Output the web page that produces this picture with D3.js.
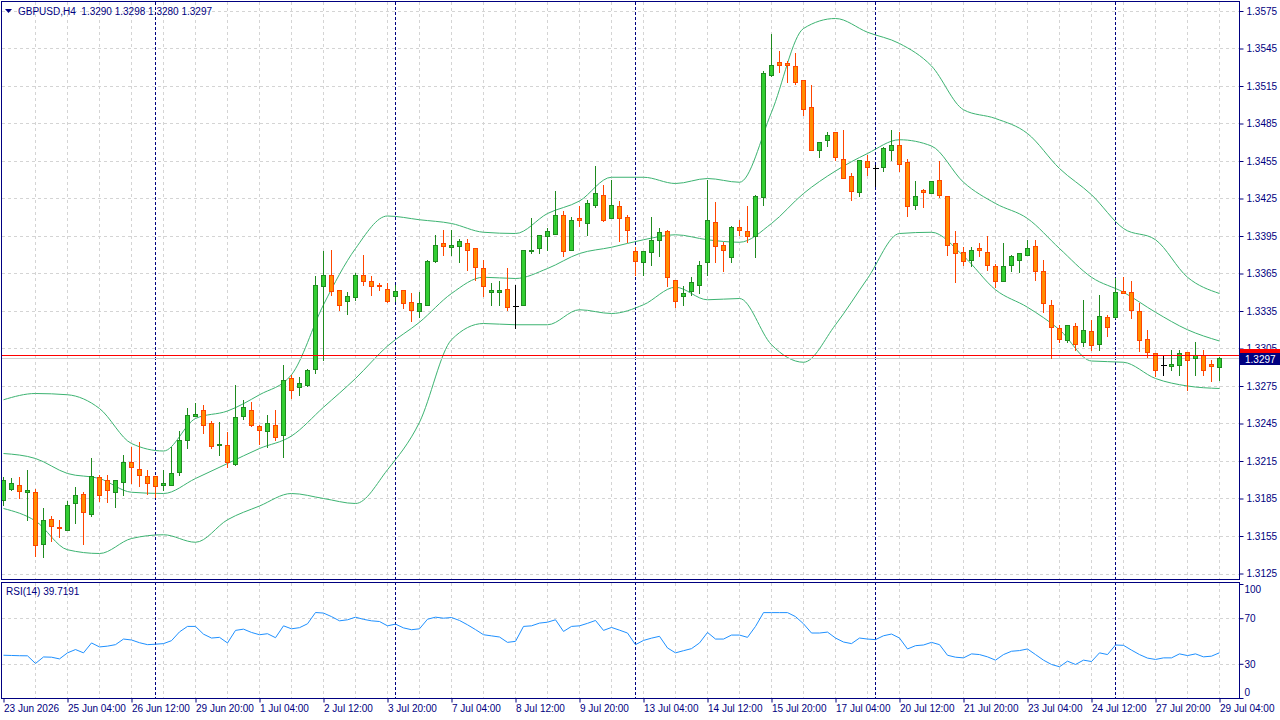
<!DOCTYPE html>
<title>GBPUSD,H4</title>
<body>
<script src="https://d3js.org/d3.v7.min.js"></script>
<style>
  html, body {
    width: 100%;
    height: 100%;
    margin: 0;
    overflow: hidden;
    background: #fff;
  }
  text {
    font-family: "Liberation Sans", Arial, sans-serif;
    font-size: 10px;
    fill: #000080;
  }
</style>
<script>
  // GBPUSD H4 candles, bar 0 = 23 Jun 20:00, bar 152 = 29 Jul 04:00
  var open = [
    1.3184,1.3193,1.3196,1.3190,1.3190,1.3149,1.3169,1.3162,1.3160,1.3181,
    1.3189,1.3173,1.3202,1.3200,1.3190,1.3198,1.3214,1.3209,1.3203,1.3203,
    1.3196,1.3196,1.3206,1.3232,1.3251,1.3256,1.3245,1.3228,1.3228,1.3213,
    1.3251,1.3256,1.3243,1.3239,1.3244,1.3236,1.3281,1.3274,1.3276,1.3289,
    1.3355,1.3364,1.3352,1.3343,1.3346,1.3364,1.3359,1.3356,1.3353,1.3347,
    1.3352,1.3342,1.3335,1.3340,1.3375,1.3389,1.3386,1.3387,1.3389,1.3385,
    1.3369,1.3350,1.3350,1.3353,1.3339,1.3340,1.3383,1.3385,1.3395,1.3397,
    1.3412,1.3384,1.3409,1.3405,1.3420,1.3428,1.3409,1.3419,1.3410,1.3383,
    1.3374,1.3382,1.3392,1.3399,1.3360,1.3347,1.3351,1.3356,1.3374,1.3406,
    1.3388,1.3378,1.3402,1.3399,1.3395,1.3426,1.3524,1.3534,1.3533,1.3531,
    1.3520,1.3498,1.3464,1.3472,1.3478,1.3457,1.3443,1.3430,1.3455,1.3449,
    1.3450,1.3464,1.3468,1.3454,1.3420,1.3432,1.3429,1.3440,1.3427,1.3389,
    1.3382,1.3376,1.3385,1.3382,1.3371,1.3359,1.3372,1.3376,1.3380,1.3387,
    1.3367,1.3340,1.3321,1.3312,1.3323,1.3310,1.3319,1.3309,1.3330,1.3330,
    1.3351,1.3350,1.3335,1.3313,1.3301,1.3292,1.3291,1.3292,1.3302,1.3297,
    1.3300,1.3293,1.3290];
  var high = [
    1.3202,1.3201,1.3202,1.3208,1.3193,1.3177,1.3171,1.3168,1.3183,1.3194,
    1.3190,1.3217,1.3204,1.3204,1.3200,1.3220,1.3226,1.3230,1.3208,1.3203,
    1.3208,1.3226,1.3239,1.3257,1.3261,1.3260,1.3247,1.3246,1.3238,1.3276,
    1.3264,1.3262,1.3244,1.3252,1.3256,1.3292,1.3284,1.3282,1.3289,1.3363,
    1.3383,1.3384,1.3352,1.3350,1.3365,1.3380,1.3363,1.3357,1.3357,1.3356,
    1.3352,1.3349,1.3350,1.3376,1.3396,1.3400,1.3400,1.3393,1.3393,1.3385,
    1.3376,1.3357,1.3359,1.3369,1.3356,1.3384,1.3409,1.3396,1.3401,1.3431,
    1.3415,1.3410,1.3419,1.3424,1.3451,1.3436,1.3440,1.3423,1.3412,1.3386,
    1.3383,1.3410,1.3401,1.3400,1.3360,1.3355,1.3362,1.3375,1.3440,1.3422,
    1.3390,1.3403,1.3408,1.3419,1.3428,1.3527,1.3557,1.3543,1.3535,1.3541,
    1.3520,1.3516,1.3470,1.3478,1.3478,1.3480,1.3445,1.3456,1.3460,1.3452,
    1.3466,1.3480,1.3478,1.3457,1.3439,1.3433,1.3439,1.3455,1.3427,1.3399,
    1.3386,1.3386,1.3389,1.3395,1.3373,1.3389,1.3380,1.3381,1.3392,1.3392,
    1.3376,1.3344,1.3324,1.3324,1.3325,1.3344,1.3328,1.3348,1.3332,1.3361,
    1.3362,1.3359,1.3341,1.3320,1.3301,1.3300,1.3304,1.3304,1.3302,1.3310,
    1.3304,1.3296,1.3298];
  var low = [
    1.3180,1.3192,1.3185,1.3168,1.3139,1.3138,1.3151,1.3154,1.3160,1.3165,
    1.3149,1.3171,1.3183,1.3182,1.3178,1.3188,1.3197,1.3195,1.3189,1.3186,
    1.3192,1.3196,1.3204,1.3225,1.3251,1.3237,1.3225,1.3220,1.3210,1.3212,
    1.3249,1.3243,1.3229,1.3226,1.3232,1.3218,1.3265,1.3268,1.3275,1.3285,
    1.3296,1.3348,1.3336,1.3333,1.3344,1.3356,1.3348,1.3352,1.3342,1.3343,
    1.3337,1.3327,1.3330,1.3340,1.3374,1.3380,1.3380,1.3374,1.3368,1.3360,
    1.3347,1.3340,1.3340,1.3336,1.3321,1.3340,1.3381,1.3381,1.3384,1.3397,
    1.3379,1.3384,1.3403,1.3396,1.3418,1.3407,1.3409,1.3391,1.3390,1.3364,
    1.3364,1.3372,1.3379,1.3355,1.3338,1.3340,1.3348,1.3349,1.3364,1.3374,
    1.3367,1.3374,1.3396,1.3390,1.3378,1.3420,1.3523,1.3526,1.3518,1.3517,
    1.3492,1.3464,1.3458,1.3467,1.3456,1.3441,1.3424,1.3427,1.3444,1.3435,
    1.3447,1.3456,1.3447,1.3411,1.3417,1.3418,1.3429,1.3426,1.3380,1.3358,
    1.3372,1.3371,1.3379,1.3368,1.3354,1.3359,1.3367,1.3366,1.3380,1.3360,
    1.3334,1.3297,1.3310,1.3310,1.3304,1.3307,1.3304,1.3304,1.3315,1.3329,
    1.3349,1.3329,1.3303,1.3298,1.3283,1.3284,1.3288,1.3284,1.3272,1.3284,
    1.3284,1.3279,1.3280];
  var close = [
    1.3200,1.3197,1.3191,1.3192,1.3148,1.3168,1.3163,1.3161,1.3180,1.3188,
    1.3174,1.3203,1.3188,1.3192,1.3200,1.3214,1.3210,1.3204,1.3197,1.3195,
    1.3197,1.3205,1.3232,1.3252,1.3253,1.3244,1.3227,1.3229,1.3214,1.3250,
    1.3258,1.3244,1.3240,1.3245,1.3234,1.3280,1.3272,1.3277,1.3288,1.3356,
    1.3364,1.3351,1.3340,1.3347,1.3364,1.3359,1.3355,1.3355,1.3343,1.3351,
    1.3341,1.3336,1.3341,1.3375,1.3388,1.3387,1.3388,1.3391,1.3384,1.3370,
    1.3355,1.3352,1.3352,1.3338,1.3339,1.3384,1.3384,1.3396,1.3399,1.3412,
    1.3383,1.3408,1.3408,1.3421,1.3429,1.3408,1.3420,1.3409,1.3400,1.3375,
    1.3383,1.3392,1.3398,1.3362,1.3343,1.3349,1.3358,1.3372,1.3408,1.3387,
    1.3384,1.3402,1.3400,1.3395,1.3427,1.3525,1.3532,1.3532,1.3532,1.3518,
    1.3497,1.3464,1.3470,1.3476,1.3458,1.3441,1.3431,1.3456,1.3450,1.3449,
    1.3465,1.3468,1.3453,1.3419,1.3427,1.3430,1.3439,1.3428,1.3388,1.3381,
    1.3375,1.3384,1.3384,1.3372,1.3359,1.3371,1.3379,1.3381,1.3385,1.3367,
    1.3341,1.3322,1.3313,1.3324,1.3309,1.3320,1.3308,1.3331,1.3322,1.3350,
    1.3349,1.3336,1.3312,1.3302,1.3288,1.3292,1.3293,1.3301,1.3296,1.3300,
    1.3288,1.3291,1.3297];

  // Bollinger bands (20, 2), read every 4th bar
  var bandBars = d3.range(0, 153, 4);
  var bbUpper = [
    1.3264,1.3269,1.3268,1.3257,1.3229,1.3223,1.3249,1.3255,1.3268,1.3284,
    1.3340,1.3385,1.3411,1.3408,1.3405,1.3398,1.3397,1.3413,1.3423,1.3442,
    1.3442,1.3437,1.3441,1.3438,1.3494,1.3561,1.3569,1.3558,1.3549,1.3531,
    1.3496,1.3489,1.3477,1.3449,1.3428,1.3401,1.3392,1.3362,1.3349];
  var bbMiddle = [
    1.3221,1.3217,1.3205,1.3201,1.3190,1.3189,1.3201,1.3213,1.3225,1.3235,
    1.3258,1.3281,1.3307,1.3326,1.3349,1.3362,1.3361,1.3369,1.3381,1.3386,
    1.3392,1.3396,1.3392,1.3390,1.3405,1.3429,1.3447,1.3461,1.3472,1.3467,
    1.3438,1.3421,1.3409,1.3385,1.3362,1.3350,1.3334,1.3320,1.3311];
  var bbLower = [
    1.3177,1.3167,1.3144,1.3141,1.3153,1.3156,1.3150,1.3168,1.3179,1.3189,
    1.3185,1.3181,1.3208,1.3246,1.3312,1.3325,1.3324,1.3324,1.3336,1.3333,
    1.3340,1.3354,1.3344,1.3345,1.3308,1.3294,1.3324,1.3361,1.3397,1.3398,
    1.3379,1.3352,1.3338,1.3320,1.3295,1.3294,1.3281,1.3275,1.3273];

  // RSI(14)
  var rsi = [
    37.5,37.3,37.1,37.0,30.3,36.0,35.8,34.3,39.6,42.5,
    39.6,48.3,44.8,45.5,46.8,51.7,50.9,48.5,46.8,47.2,
    47.7,50.3,58.0,62.8,62.8,56.0,52.6,53.2,48.3,59.3,
    60.4,57.5,55.5,56.4,52.9,63.3,60.7,61.7,65.1,75.0,
    74.5,71.4,67.7,68.6,70.9,69.0,67.7,67.1,63.3,64.8,
    61.5,59.9,60.7,69.1,70.9,70.0,70.6,68.0,64.2,60.0,
    55.5,54.5,53.5,48.8,49.7,62.8,63.3,65.7,66.5,68.6,
    58.4,62.8,63.3,65.5,68.0,59.3,61.9,59.5,57.0,46.8,
    50.5,52.5,54.1,43.9,39.6,41.5,43.3,48.3,57.5,51.7,
    51.7,55.2,55.2,53.2,62.8,74.9,74.9,74.9,74.9,71.4,
    65.1,57.0,57.0,57.8,52.6,49.1,47.7,52.6,51.7,51.2,
    54.6,56.1,52.6,43.0,45.9,46.5,48.8,46.8,37.5,35.8,
    35.2,38.7,38.1,36.1,33.2,38.1,41.0,41.6,43.0,38.1,
    33.2,29.4,27.4,32.3,29.4,33.2,32.0,39.6,38.1,46.5,
    46.2,42.0,38.1,35.0,33.8,35.2,35.2,38.7,37.2,38.7,
    36.1,36.7,39.7];
  var rsiLast = "39.7191";

  var priceTicks = [1.3125,1.3155,1.3185,1.3215,1.3245,1.3275,1.3305,1.3335,
                    1.3365,1.3395,1.3425,1.3455,1.3485,1.3515,1.3545,1.3575];
  var rsiTicks = [0, 30, 70, 100];
  var rsiLevels = [30, 70];
  var timeBars = d3.range(0, 153, 8);
  var timeLabels = ["23 Jun 2026","25 Jun 04:00","26 Jun 12:00","29 Jun 20:00","1 Jul 04:00",
                    "2 Jul 12:00","3 Jul 20:00","7 Jul 04:00","8 Jul 12:00","9 Jul 20:00",
                    "13 Jul 04:00","14 Jul 12:00","15 Jul 20:00","17 Jul 04:00","20 Jul 12:00",
                    "21 Jul 20:00","23 Jul 04:00","24 Jul 12:00","27 Jul 20:00","29 Jul 04:00"];
  var weekBars = [19, 49, 79, 109, 139];   // Monday 00:00 separators
  var askPrice = 1.3300, bidPrice = 1.3297;

  var width = 1280, height = 720,
    mainTop = 2, mainBottom = 579, rsiTop = 583, rsiBottom = 698, right = 1239;

  var svg = d3.select("body").append("svg")
    .attr("width", width)
    .attr("height", height);

  var x = d3.scaleLinear().domain([0, 152]).range([3.5, 1219.5]);
  var y = d3.scaleLinear().domain([1.3125, 1.3575]).range([573.5, 11]);
  var yr = d3.scaleLinear().domain([0, 100]).range([rsiBottom, rsiTop + 1]);
  var px = function(v) { return Math.round(v) + 0.5; };

  svg.append("clipPath").attr("id", "mainClip")
    .append("rect").attr("x", 2).attr("y", mainTop + 1)
    .attr("width", right - 2).attr("height", mainBottom - mainTop - 1);
  svg.append("clipPath").attr("id", "rsiClip")
    .append("rect").attr("x", 2).attr("y", rsiTop + 1)
    .attr("width", right - 2).attr("height", rsiBottom - rsiTop - 1);

  /* grid */
  var grid = svg.append("g")
    .attr("stroke", "#d4d4d4")
    .attr("stroke-dasharray", "3,3")
    .attr("shape-rendering", "crispEdges");

  var gridBars = d3.range(4, 153, 4);
  grid.selectAll(".vm").data(gridBars).enter().append("line")
    .attr("x1", function(d) { return x(d); }).attr("x2", function(d) { return x(d); })
    .attr("y1", mainTop).attr("y2", mainBottom);
  grid.selectAll(".vr").data(gridBars).enter().append("line")
    .attr("x1", function(d) { return x(d); }).attr("x2", function(d) { return x(d); })
    .attr("y1", rsiTop).attr("y2", rsiBottom);
  grid.selectAll(".hm").data(priceTicks).enter().append("line")
    .attr("x1", 2).attr("x2", right)
    .attr("y1", function(d) { return px(y(d)); }).attr("y2", function(d) { return px(y(d)); });
  grid.selectAll(".hr").data(rsiLevels).enter().append("line")
    .attr("x1", 2).attr("x2", right)
    .attr("y1", function(d) { return px(yr(d)); }).attr("y2", function(d) { return px(yr(d)); });

  // weekly separators run through both panels
  svg.append("g").selectAll("line").data(weekBars).enter().append("line")
    .attr("x1", function(d) { return x(d); }).attr("x2", function(d) { return x(d); })
    .attr("y1", mainTop).attr("y2", rsiBottom)
    .attr("stroke", "#000080")
    .attr("stroke-dasharray", "3,2")
    .attr("shape-rendering", "crispEdges");

  /* main panel: bands, candles, price lines */
  var main = svg.append("g").attr("clip-path", "url(#mainClip)");

  var bandLine = function(vals) {
    return d3.line()
      .x(function(d, i) { return x(bandBars[i]); })
      .y(function(d) { return y(d); })
      .curve(d3.curveMonotoneX)(vals);
  };
  main.selectAll(".band").data([bbUpper, bbMiddle, bbLower]).enter().append("path")
    .attr("d", bandLine)
    .attr("fill", "none")
    .attr("stroke", "#3cb371")
    .attr("stroke-width", 1);

  main.append("line")
    .attr("x1", 2).attr("x2", right)
    .attr("y1", px(y(bidPrice))).attr("y2", px(y(bidPrice)))
    .attr("stroke", "#d0d0d0")
    .attr("shape-rendering", "crispEdges");

  var bars = d3.range(open.length);
  var colorOf = function(i) {
    if (close[i] > open[i]) return { fill: "#32cd32", stroke: "#1f8a1f" };
    if (close[i] < open[i]) return { fill: "#ff8c00", stroke: "#ff4500" };
    return { fill: "none", stroke: "#000" };
  };

  var candle = main.selectAll(".candle").data(bars).enter().append("g")
    .attr("shape-rendering", "crispEdges");

  candle.append("line")
    .attr("x1", function(i) { return x(i); }).attr("x2", function(i) { return x(i); })
    .attr("y1", function(i) { return Math.round(y(high[i])); })
    .attr("y2", function(i) { return Math.round(y(low[i])) + 1; })
    .attr("stroke", function(i) { return colorOf(i).stroke; });

  candle.filter(function(i) { return close[i] !== open[i]; }).append("rect")
    .attr("x", function(i) { return x(i) - 2; })
    .attr("width", 4)
    .attr("y", function(i) { return px(y(Math.max(open[i], close[i]))); })
    .attr("height", function(i) {
      return Math.max(1, Math.round(y(Math.min(open[i], close[i]))) - Math.round(y(Math.max(open[i], close[i]))));
    })
    .attr("fill", function(i) { return colorOf(i).fill; })
    .attr("stroke", function(i) { return colorOf(i).stroke; });

  candle.filter(function(i) { return close[i] === open[i]; }).append("line")
    .attr("x1", function(i) { return x(i) - 2.5; }).attr("x2", function(i) { return x(i) + 3.5; })
    .attr("y1", function(i) { return px(y(open[i])); }).attr("y2", function(i) { return px(y(open[i])); })
    .attr("stroke", "#000");

  main.append("line")
    .attr("x1", 2).attr("x2", right)
    .attr("y1", px(y(askPrice))).attr("y2", px(y(askPrice)))
    .attr("stroke", "#ff0000")
    .attr("shape-rendering", "crispEdges");

  /* RSI panel */
  svg.append("g").attr("clip-path", "url(#rsiClip)")
    .append("path")
    .datum(rsi)
    .attr("d", d3.line().x(function(d, i) { return x(i); }).y(function(d) { return yr(d); }))
    .attr("fill", "none")
    .attr("stroke", "#1e90ff")
    .attr("stroke-width", 1);

  /* frames */
  var frame = svg.append("g")
    .attr("fill", "none")
    .attr("stroke", "#000080")
    .attr("shape-rendering", "crispEdges");
  frame.append("rect").attr("x", 1.5).attr("y", mainTop - 0.5)
    .attr("width", right - 1).attr("height", mainBottom - mainTop + 1);
  frame.append("rect").attr("x", 1.5).attr("y", rsiTop - 0.5)
    .attr("width", right - 1).attr("height", rsiBottom - rsiTop + 1);

  /* axes */
  var priceAxis = svg.append("g")
    .attr("transform", "translate(" + (right + 0.5) + ",0)")
    .call(d3.axisRight(y).tickValues(priceTicks).tickSize(4).tickSizeOuter(0)
      .tickFormat(d3.format(".4f")));
  priceAxis.select(".domain").remove();
  priceAxis.selectAll("line").attr("stroke", "#000080");
  priceAxis.selectAll("text").attr("fill", "#000080").attr("font-size", null).attr("font-family", null);

  var rsiAxis = svg.append("g")
    .attr("transform", "translate(" + (right + 0.5) + ",0)")
    .call(d3.axisRight(yr).tickValues(rsiTicks).tickSize(4).tickSizeOuter(0).tickPadding(1));
  rsiAxis.select(".domain").remove();
  rsiAxis.selectAll("line").attr("stroke", "#000080");
  rsiAxis.selectAll("text").attr("fill", "#000080").attr("font-size", null).attr("font-family", null)
    .attr("dy", function(d) { return d === 100 ? "0.85em" : d === 0 ? "-0.25em" : "0.32em"; });

  var timeAxis = svg.append("g")
    .attr("transform", "translate(0," + (rsiBottom + 0.5) + ")")
    .call(d3.axisBottom(x).tickValues(timeBars).tickSize(4).tickSizeOuter(0).tickPadding(2)
      .tickFormat(function(d, i) { return timeLabels[i]; }));
  timeAxis.select(".domain").remove();
  timeAxis.selectAll("line").attr("stroke", "#000080");
  timeAxis.selectAll("text").attr("fill", "#000080").attr("font-size", null).attr("font-family", null)
    .attr("text-anchor", "start").attr("x", 0);

  /* price markers on the scale: ask box sits behind the bid box */
  svg.append("rect")
    .attr("x", right + 1).attr("y", Math.round(y(askPrice)) - 6)
    .attr("width", width - right - 1).attr("height", 12)
    .attr("fill", "#ff0000");
  svg.append("rect")
    .attr("x", right + 1).attr("y", Math.round(y(bidPrice)) - 5)
    .attr("width", width - right - 1).attr("height", 12)
    .attr("fill", "#000080");
  svg.append("text")
    .attr("x", right + 6).attr("y", y(bidPrice) + 1).attr("dy", "0.35em")
    .style("fill", "#fff").text(d3.format(".4f")(bidPrice));

  /* header labels */
  var last = open.length - 1, f4 = d3.format(".4f");
  svg.append("path")
    .attr("d", "M5,9L12,9L8.5,13Z")
    .attr("fill", "#000080");
  svg.append("text")
    .attr("x", 18).attr("y", 15)
    .style("white-space", "pre")
    .text("GBPUSD,H4  " + [open[last], high[last], low[last], close[last]].map(f4).join(" "));
  svg.append("text")
    .attr("x", 6).attr("y", 595)
    .text("RSI(14) " + rsiLast);
</script>
